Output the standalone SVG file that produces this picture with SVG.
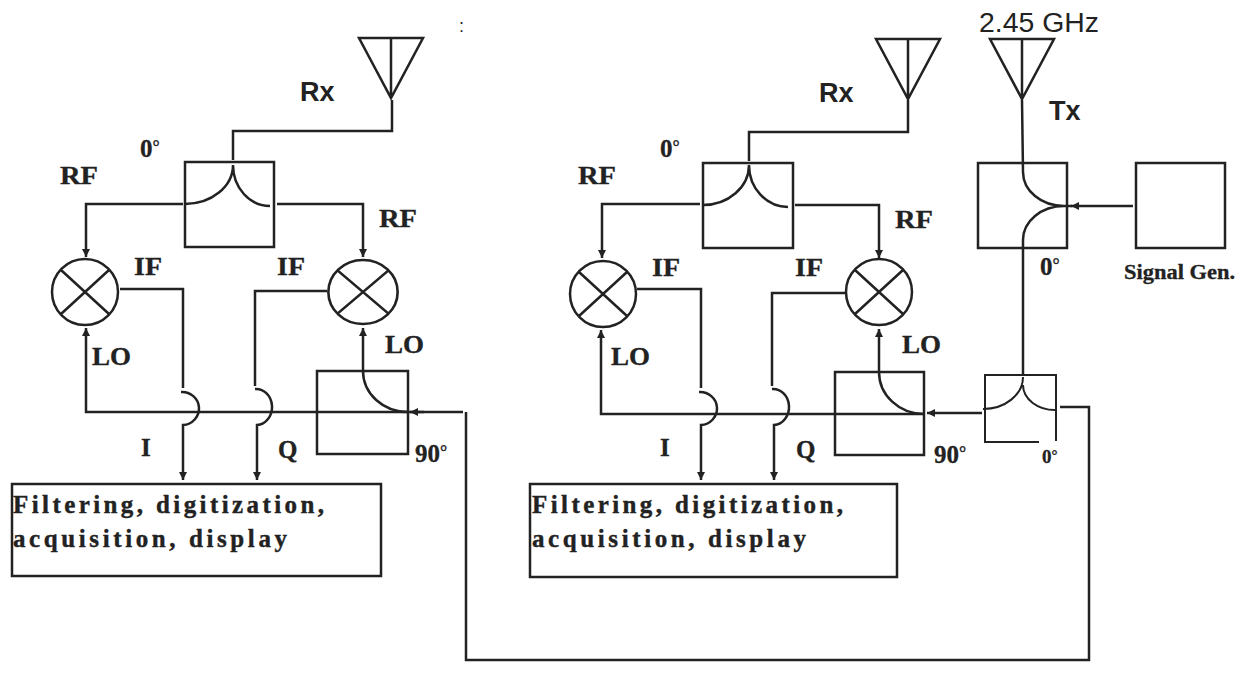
<svg xmlns="http://www.w3.org/2000/svg" width="1243" height="692" viewBox="0 0 1243 692">
<style>
.s{fill:none;stroke:#222;stroke-width:2.5}
.t{stroke-width:2}
.c{fill:none;stroke:#222;stroke-width:2.5}
.a{marker-end:url(#ah)}
text{fill:#222}
.b{font-family:"Liberation Serif",serif;font-weight:bold;font-size:25px;stroke:#222;stroke-width:.3}
.h{font-family:"Liberation Sans",sans-serif;font-weight:bold;font-size:27px}
.f{font-family:"Liberation Serif",serif;font-weight:bold;font-size:25px;stroke:#222;stroke-width:.4}
.d{font-size:18px}
</style>
<defs>
<marker id="ah" markerUnits="userSpaceOnUse" markerWidth="10" markerHeight="10" refX="8" refY="4" orient="auto"><path d="M0 0L8 4L0 8Z" fill="#222"/></marker>
<g id="ant"><path class="s" d="M-32 0H32L0 60ZM0 0V60"/></g>
<g id="mix"><circle class="s" r="33"/><path class="s" d="M-24-22L24 22M-24 22L24-22"/></g>
</defs>
<rect width="1243" height="692" fill="#fff"/>
<g id="connectors">
<path class="c" d="M392 100V131H233V160"/>
<path class="c a" d="M183 204H86V257"/>
<path class="c a" d="M277 204H363V257"/>
<path class="c a" d="M120 289H183V388M181 392A17 16.500 0 0 1 183 425V480"/>
<path class="c a" d="M327 291H255V386M255 389A16 18 0 0 1 257 425V480"/>
<path class="c a" d="M463 412H86V328"/>
<path class="c a" d="M363 371V328"/>
<path class="c" d="M466 412V660H1089V407H1060"/>
<path class="c a" d="M424 412H410"/>
<path class="c" d="M908 100V132H749V161"/>
<path class="c a" d="M700 204H602V258"/>
<path class="c a" d="M795 205H879V258"/>
<path class="c a" d="M637 289H701V388M699 392A17 16.500 0 0 1 701 425V480"/>
<path class="c a" d="M845 293H772V386M772 389A16 18 0 0 1 774 425V480"/>
<path class="c a" d="M924 414H601V330"/>
<path class="c a" d="M879 372V329"/>
<path class="c a" d="M982 413H927"/>
<path class="c" d="M1022 100L1023 172"/>
<path class="c" d="M1023 240V375"/>
<path class="c" d="M1072 206H1064"/>
<path class="c a" d="M1133 206H1071"/>
</g>
<g id="rx-antenna-1"><use href="#ant" x="391" y="38"/></g>
<g id="splitter-1"><rect class="s" x="185" y="162" width="89" height="85"/><path class="s" d="M233 165A48 39 0 0 1 185 204M233 165A37 41 0 0 0 270 206"/></g>
<g id="mixer-1a"><use href="#mix" x="85" y="292"/></g>
<g id="mixer-1b"><use href="#mix" transform="translate(363 292) scale(1.05 .97)"/></g>
<g id="hybrid-1"><rect class="s" x="317" y="371" width="91" height="83"/><path class="s" d="M363 371A45 41 0 0 0 408 412"/></g>
<g id="backend-1"><rect class="s" x="12" y="484" width="369" height="92"/>
<text class="f" x="13" y="513" textLength="311" lengthAdjust="spacing">Filtering, digitization,</text>
<text class="f" x="13" y="547" textLength="274" lengthAdjust="spacing">acquisition, display</text></g>
<g id="rx-antenna-2"><use href="#ant" x="908" y="39"/></g>
<g id="splitter-2"><rect class="s" x="703" y="163" width="90" height="85"/><path class="s" d="M749 165A46 40 0 0 1 703 205M749 165A39 42 0 0 0 788 207"/></g>
<g id="mixer-2a"><use href="#mix" x="603" y="294"/></g>
<g id="mixer-2b"><use href="#mix" x="879" y="292"/></g>
<g id="hybrid-2"><rect class="s" x="835" y="372" width="89" height="83"/><path class="s" d="M879 372A45 42 0 0 0 924 414"/></g>
<g id="backend-2"><rect class="s" x="530" y="484" width="367" height="93"/>
<text class="f" x="532" y="513" textLength="311" lengthAdjust="spacing">Filtering, digitization,</text>
<text class="f" x="532" y="547" textLength="274" lengthAdjust="spacing">acquisition, display</text></g>
<g id="tx-antenna"><use href="#ant" x="1022" y="39"/></g>
<g id="tx-coupler"><rect class="s" x="978" y="163" width="89" height="85"/><path class="s" d="M1023 172A41 34 0 0 0 1064 206A41 34 0 0 0 1023 240"/></g>
<g id="signal-gen"><rect class="s" x="1136" y="163" width="89" height="85"/></g>
<g id="lo-splitter"><path class="s t" d="M1039 442H985V375H1056V441"/><path class="s t" d="M1023 377A40 32 0 0 1 983 409M1023 385A32 25 0 0 0 1056 410"/></g>
<g id="labels">
<text class="h" x="300" y="101">Rx</text>
<text class="h" x="819" y="102">Rx</text>
<text class="h" x="1049" y="120">Tx</text>
<text x="979" y="32" font-family="'Liberation Sans',sans-serif" font-size="27" textLength="120" lengthAdjust="spacingAndGlyphs">2.45 GHz</text>
<text x="459" y="32" font-family="'Liberation Sans',sans-serif" font-size="18" fill="#666">:</text>
<text class="b" x="140" y="157">0<tspan class="d" dy="-4">°</tspan></text>
<text class="b" x="660" y="157">0<tspan class="d" dy="-4">°</tspan></text>
<text class="b" x="60" y="184" textLength="38" lengthAdjust="spacingAndGlyphs">RF</text>
<text class="b" x="379" y="227" textLength="38" lengthAdjust="spacingAndGlyphs">RF</text>
<text class="b" x="578" y="184" textLength="38" lengthAdjust="spacingAndGlyphs">RF</text>
<text class="b" x="895" y="228" textLength="38" lengthAdjust="spacingAndGlyphs">RF</text>
<text class="b" x="134" y="275" textLength="28" lengthAdjust="spacingAndGlyphs">IF</text>
<text class="b" x="277" y="275" textLength="28" lengthAdjust="spacingAndGlyphs">IF</text>
<text class="b" x="652" y="276" textLength="28" lengthAdjust="spacingAndGlyphs">IF</text>
<text class="b" x="795" y="276" textLength="28" lengthAdjust="spacingAndGlyphs">IF</text>
<text class="b" x="92" y="365" textLength="39" lengthAdjust="spacingAndGlyphs">LO</text>
<text class="b" x="385" y="353" textLength="39" lengthAdjust="spacingAndGlyphs">LO</text>
<text class="b" x="611" y="365" textLength="39" lengthAdjust="spacingAndGlyphs">LO</text>
<text class="b" x="902" y="353" textLength="39" lengthAdjust="spacingAndGlyphs">LO</text>
<text class="b" x="141" y="456">I</text>
<text class="b" x="278" y="458">Q</text>
<text class="b" x="660" y="456">I</text>
<text class="b" x="796" y="458">Q</text>
<text class="b" x="415" y="462">90<tspan class="d" dy="-4">°</tspan></text>
<text class="b" x="934" y="463">90<tspan class="d" dy="-4">°</tspan></text>
<text class="b" x="1040" y="275">0<tspan class="d" dy="-4">°</tspan></text>
<text class="b" x="1042" y="463" style="font-size:19px">0<tspan dy="-3" font-size="15">°</tspan></text>
<text class="b" x="1124" y="279" style="font-size:20px" textLength="111" lengthAdjust="spacingAndGlyphs">Signal Gen.</text>
</g>
</svg>
